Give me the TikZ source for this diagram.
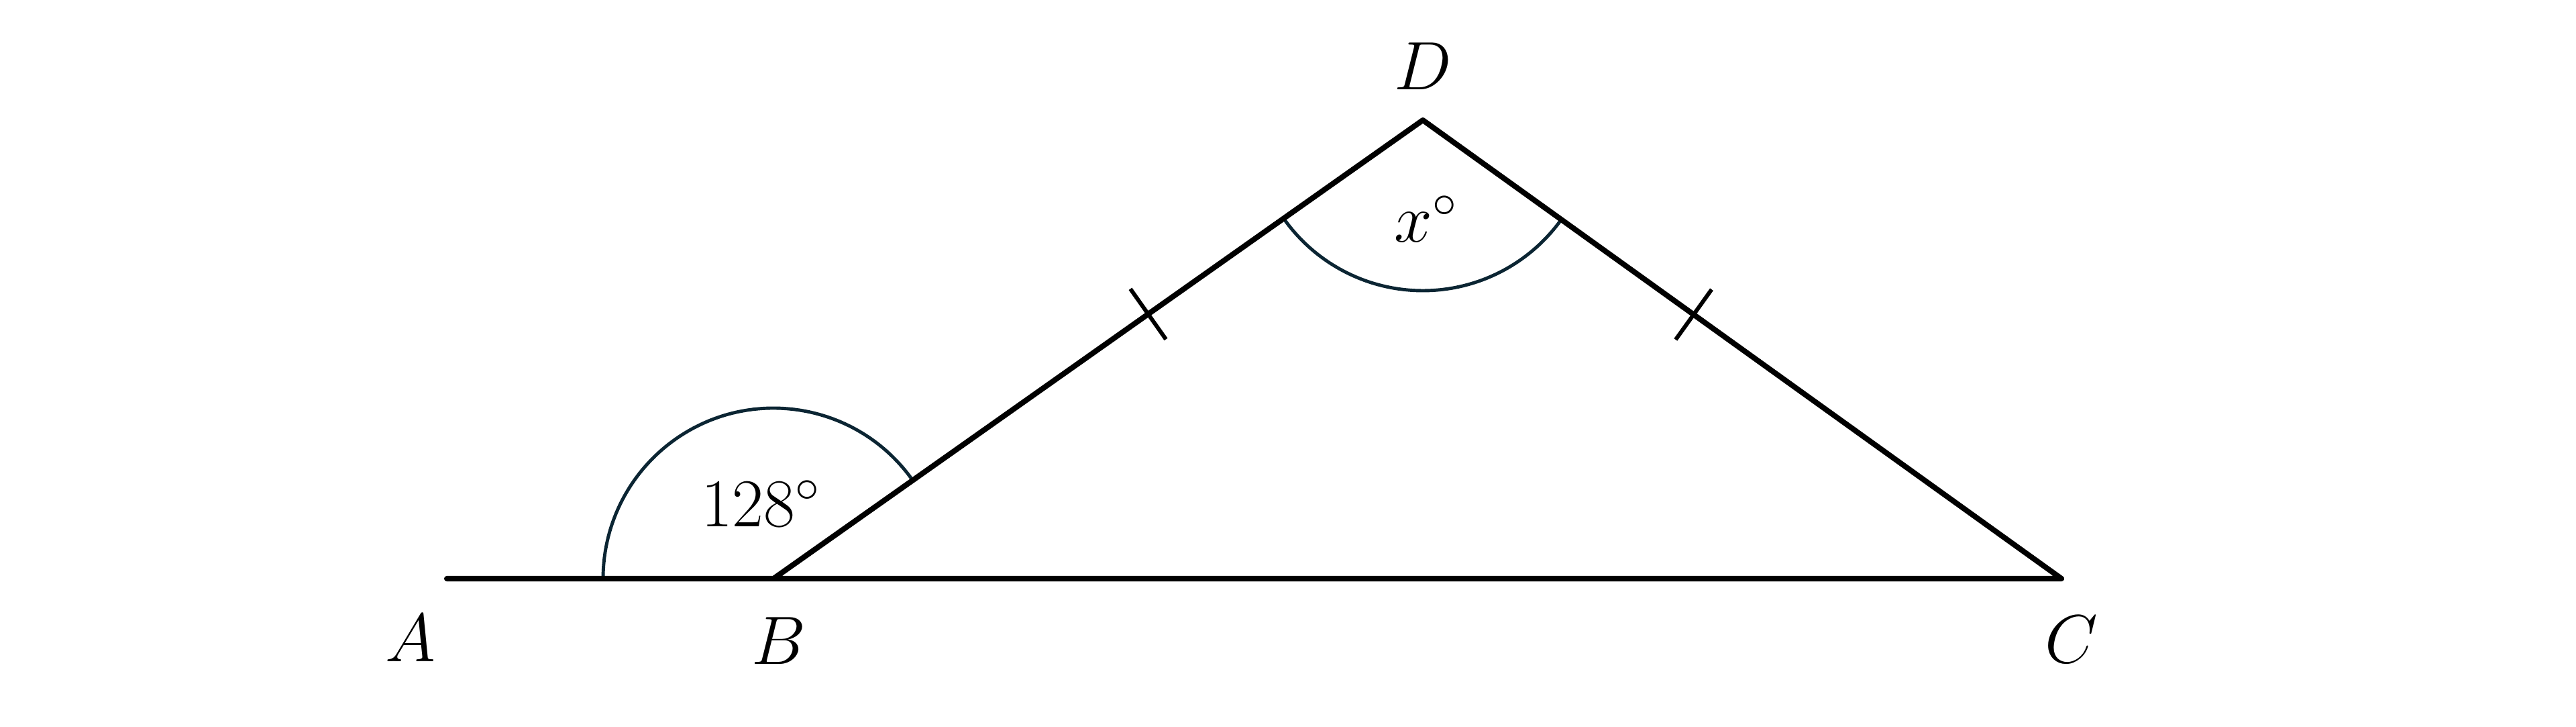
\documentclass[tikz,border=0pt]{standalone}
\usepackage{fix-cm}
\usetikzlibrary{calc}
\definecolor{arcnavy}{HTML}{0B2533}
\tikzset{
  lbl/.style={font=\fontsize{29}{34}\selectfont, inner sep=0pt},
  edge/.style={line width=2.3pt, line cap=round, line join=round},
  angarc/.style={draw=arcnavy, line width=1.4pt, line join=round},
  tickmark/.style={line width=1.7pt}
}
\begin{document}
\begin{tikzpicture}
    \useasboundingbox (0,0) rectangle (38.4,10.82);

    % points
    \coordinate (A) at (6.66,2.20);
    \coordinate (B) at (11.53,2.20);
    \coordinate (C) at (30.73,2.20);
    \coordinate (D) at (21.21,9.03);

    % angle sectors
    \draw[angarc] (B) -- ++(35.2:2.54) arc (35.2:180:2.54) -- cycle;
    \draw[angarc] (D) -- ++(215.2:2.54) arc (215.2:324.35:2.54) -- cycle;

    % lines
    \draw[edge] (A) -- (C) -- (D) -- (B);

    % equal sides
    \coordinate (t1) at ($(B)!0.577!(D)$);
    \coordinate (t2) at ($(C)!0.576!(D)$);
    \draw[tickmark] ($(t1)!0.46cm!90:(D)$) -- ($(t1)!0.46cm!-90:(D)$);
    \draw[tickmark] ($(t2)!0.46cm!90:(D)$) -- ($(t2)!0.46cm!-90:(D)$);

    % labels
    \node[lbl] (la) at (6.12,1.31) {$A$};
    \node[lbl] (lb) at (11.61,1.27) {$B$};
    \node[lbl] (lc) at (30.88,1.29) {$C$};
    \node[lbl] (ld) at (21.21,9.83) {$D$};
    \node[lbl] (l128) at (11.34,3.32) {$128^\circ$};
    \node[lbl] (lx) at (21.26,7.56) {$x^\circ$};

\end{tikzpicture}
\end{document}
